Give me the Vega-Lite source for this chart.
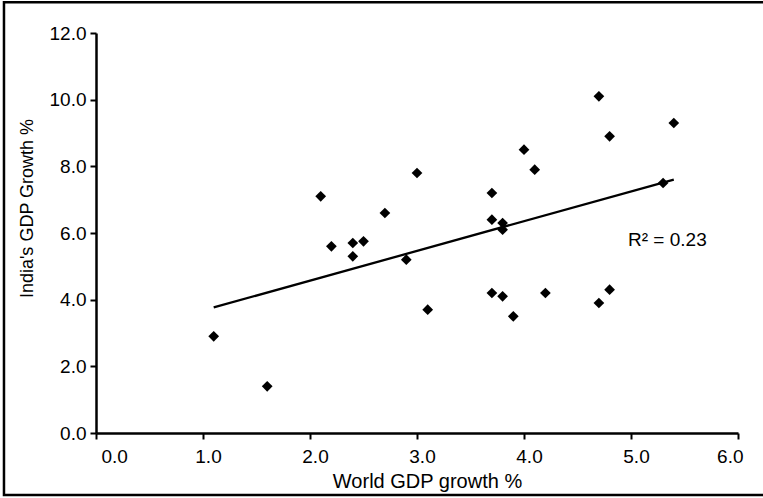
{
  "$schema": "https://vega.github.io/schema/vega-lite/v6.json",
  "autosize": "none",
  "width": 642,
  "height": 400,
  "padding": {"left": 96, "top": 33, "right": 25, "bottom": 65},
  "background": "white",
  "config": {
    "view": {"stroke": null},
    "font": "Liberation Sans",
    "axis": {
      "grid": false,
      "domainColor": "black",
      "domainWidth": 2.5,
      "tickColor": "black",
      "tickWidth": 2,
      "tickSize": 6,
      "labelFont": "Liberation Sans",
      "labelFontSize": 19,
      "labelColor": "black",
      "titleFont": "Liberation Sans",
      "titleFontSize": 19,
      "titleFontWeight": "normal",
      "titleColor": "black"
    }
  },
  "data": {
    "values": [
      {"world": 1.1, "india": 2.9},
      {"world": 1.6, "india": 1.4},
      {"world": 2.1, "india": 7.1},
      {"world": 2.2, "india": 5.6},
      {"world": 2.4, "india": 5.7},
      {"world": 2.5, "india": 5.75},
      {"world": 2.4, "india": 5.3},
      {"world": 2.7, "india": 6.6},
      {"world": 2.9, "india": 5.2},
      {"world": 3.0, "india": 7.8},
      {"world": 3.1, "india": 3.7},
      {"world": 3.7, "india": 7.2},
      {"world": 3.7, "india": 6.4},
      {"world": 3.8, "india": 6.3},
      {"world": 3.8, "india": 6.1},
      {"world": 4.0, "india": 8.5},
      {"world": 4.1, "india": 7.9},
      {"world": 4.7, "india": 10.1},
      {"world": 4.8, "india": 8.9},
      {"world": 5.4, "india": 9.3},
      {"world": 5.3, "india": 7.5},
      {"world": 3.7, "india": 4.2},
      {"world": 3.8, "india": 4.1},
      {"world": 3.9, "india": 3.5},
      {"world": 4.2, "india": 4.2},
      {"world": 4.7, "india": 3.9},
      {"world": 4.8, "india": 4.3}
    ]
  },
  "layer": [
    {
      "mark": {"type": "point", "shape": "diamond", "filled": true, "color": "black", "size": 115, "opacity": 1, "strokeWidth": 0},
      "encoding": {
        "x": {
          "field": "world", "type": "quantitative",
          "scale": {"domain": [0, 6], "nice": false, "zero": true},
          "axis": {
            "title": "World GDP growth %",
            "values": [0, 1, 2, 3, 4, 5, 6],
            "format": ".1f",
            "labelPadding": 8,
            "labelOffset": 5,
            "titleFontSize": 20,
            "titleX": 331,
            "titleY": 54,
            "titleBaseline": "alphabetic",
            "titleAlign": "center"
          }
        },
        "y": {
          "field": "india", "type": "quantitative",
          "scale": {"domain": [0, 12], "nice": false, "zero": true},
          "axis": {
            "title": "India's GDP Growth %",
            "values": [0, 2, 4, 6, 8, 10, 12],
            "format": ".1f",
            "labelPadding": 4,
            "titleFontSize": 18,
            "titleX": -69,
            "titleY": 175,
            "titleAngle": -90,
            "titleAlign": "center",
            "titleBaseline": "middle"
          }
        }
      }
    },
    {
      "transform": [{"regression": "india", "on": "world", "extent": [1.1, 5.4]}],
      "mark": {"type": "line", "color": "black", "strokeWidth": 2.3},
      "encoding": {
        "x": {"field": "world", "type": "quantitative"},
        "y": {"field": "india", "type": "quantitative"}
      }
    },
    {
      "data": {"values": [{}]},
      "mark": {"type": "text", "text": "R² = 0.23", "fontSize": 19, "font": "Liberation Sans", "color": "black", "align": "center", "baseline": "alphabetic"},
      "encoding": {
        "x": {"datum": 5.34, "type": "quantitative"},
        "y": {"datum": 5.61, "type": "quantitative"}
      }
    },
    {
      "data": {"values": [{}]},
      "mark": {"type": "rect", "fill": null, "fillOpacity": 0, "stroke": "black", "strokeWidth": 2.5, "clip": false},
      "encoding": {
        "x": {"datum": -0.86, "type": "quantitative"},
        "x2": {"datum": 6.5},
        "y": {"datum": 12.92},
        "y2": {"datum": -1.86}
      }
    }
  ]
}
